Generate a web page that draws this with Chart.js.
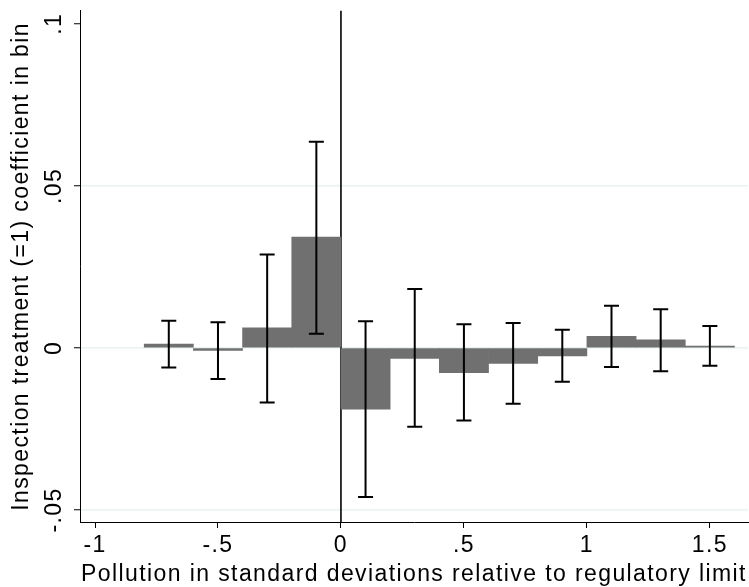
<!DOCTYPE html>
<html>
<head>
<meta charset="utf-8">
<script src="https://cdn.jsdelivr.net/npm/chart.js@4.4.1/dist/chart.umd.min.js"></script>
<style>
  html, body { margin: 0; padding: 0; background: #ffffff; }
  #wrap { width: 749px; height: 587px; position: relative; }
</style>
</head>
<body>
<div id="wrap"><canvas id="c" width="749" height="587"></canvas></div>
<script>
// ---- data ----
const binCenters = [-0.7, -0.5, -0.3, -0.1, 0.1, 0.3, 0.5, 0.7, 0.9, 1.1, 1.3, 1.5];
const coefficients = [0.0012, -0.0008, 0.0062, 0.0342, -0.0189, -0.0032, -0.0076, -0.0048, -0.0025, 0.0036, 0.0025, 0.0006];
const ciUpper = [0.0084, 0.0079, 0.0288, 0.0636, 0.0082, 0.0182, 0.0073, 0.0077, 0.0056, 0.0130, 0.0119, 0.0068];
const ciLower = [-0.0060, -0.0096, -0.0168, 0.0044, -0.0460, -0.0243, -0.0224, -0.0172, -0.0104, -0.0059, -0.0072, -0.0055];
const xTickValues = [-1, -0.5, 0, 0.5, 1, 1.5];
const xTickLabels = ["-1", "-.5", "0", ".5", "1", "1.5"];
const yTickValues = [-0.05, 0, 0.05, 0.1];
const yTickLabels = ["-.05", "0", ".05", ".1"];
const xTitle = "Pollution in standard deviations relative to regulatory limit";
const yTitle = "Inspection treatment (=1) coefficient in bin";
const cutoff = 0;

const FONT = "'Liberation Sans', Arial, Helvetica, sans-serif";
const FSIZE = 23;
const SPACING = '1.4px';

const barData = binCenters.map((x, i) => ({ x: x, y: coefficients[i] }));

const spacingPlugin = {
  id: 'spacing',
  beforeUpdate(chart) { chart.ctx.letterSpacing = SPACING; },
  beforeLayout(chart) { chart.ctx.letterSpacing = SPACING; },
  beforeDraw(chart) { chart.ctx.letterSpacing = SPACING; }
};

const errorBarPlugin = {
  id: 'errorBars',
  beforeDatasetsDraw(chart) {
    const { ctx, chartArea, scales } = chart;
    const px = scales.x.getPixelForValue(cutoff);
    ctx.save();
    ctx.strokeStyle = '#000';
    ctx.lineWidth = 1.6;
    ctx.beginPath();
    ctx.moveTo(px, chartArea.top);
    ctx.lineTo(px, chartArea.bottom);
    ctx.stroke();
    ctx.restore();
  },
  afterDatasetsDraw(chart) {
    const { ctx, scales } = chart;
    ctx.save();
    ctx.strokeStyle = '#000';
    ctx.lineWidth = 2;
    const cap = 7.5;
    binCenters.forEach((xv, i) => {
      const x = scales.x.getPixelForValue(xv);
      const yt = scales.y.getPixelForValue(ciUpper[i]);
      const yb = scales.y.getPixelForValue(ciLower[i]);
      ctx.beginPath();
      ctx.moveTo(x, yt); ctx.lineTo(x, yb);
      ctx.moveTo(x - cap, yt); ctx.lineTo(x + cap, yt);
      ctx.moveTo(x - cap, yb); ctx.lineTo(x + cap, yb);
      ctx.stroke();
    });
    ctx.restore();
  }
};

new Chart(document.getElementById('c'), {
  type: 'bar',
  data: {
    datasets: [{
      data: barData,
      backgroundColor: '#707070',
      borderWidth: 0,
      barPercentage: 1,
      categoryPercentage: 1,
      grouped: false
    }]
  },
  options: {
    responsive: false,
    animation: false,
    devicePixelRatio: 1,
    layout: { padding: { top: 10, right: 1, left: 0, bottom: 0 } },
    plugins: { legend: { display: false }, tooltip: { enabled: false } },
    scales: {
      x: {
        type: 'linear',
        offset: false,
        min: -1.061,
        max: 1.655,
        afterBuildTicks: s => { s.ticks = xTickValues.map(v => ({ value: v })); },
        afterFit: s => { s.height = 65; },
        ticks: {
          callback: (v) => { const i = xTickValues.indexOf(v); return i >= 0 ? xTickLabels[i] : ''; },
          color: '#000',
          font: { family: FONT, size: FSIZE },
          padding: 4,
          maxRotation: 0,
          minRotation: 0
        },
        grid: { offset: false, drawOnChartArea: false, drawTicks: true, tickLength: 6, tickColor: '#000', tickWidth: 1 },
        border: { display: true, color: '#000', width: 1 },
        title: { display: true, text: xTitle, color: '#000', font: { family: FONT, size: FSIZE }, padding: { top: 0, bottom: -1 } }
      },
      y: {
        type: 'linear',
        min: -0.0537,
        max: 0.104,
        afterBuildTicks: s => { s.ticks = yTickValues.map(v => ({ value: v })); },
        afterFit: s => { s.width = 80; },
        ticks: {
          callback: (v) => { const i = yTickValues.findIndex(t => Math.abs(t - v) < 1e-9); return i >= 0 ? yTickLabels[i] : ''; },
          color: '#000',
          font: { family: FONT, size: FSIZE },
          minRotation: 90,
          maxRotation: 90,
          crossAlign: 'center',
          padding: -3
        },
        grid: {
          offset: false,
          color: ctx => (ctx.tick && Math.abs(ctx.tick.value - 0.1) < 1e-9) ? 'rgba(0,0,0,0)' : '#eaf2f3',
          lineWidth: 1.5,
          drawTicks: true,
          tickLength: 6,
          tickColor: '#000',
          tickWidth: 1
        },
        border: { display: true, color: '#000', width: 1 },
        title: { display: true, text: yTitle, color: '#000', font: { family: FONT, size: FSIZE }, padding: { top: 8, bottom: 0 } }
      }
    }
  },
  plugins: [spacingPlugin, errorBarPlugin]
});
</script>
</body>
</html>
